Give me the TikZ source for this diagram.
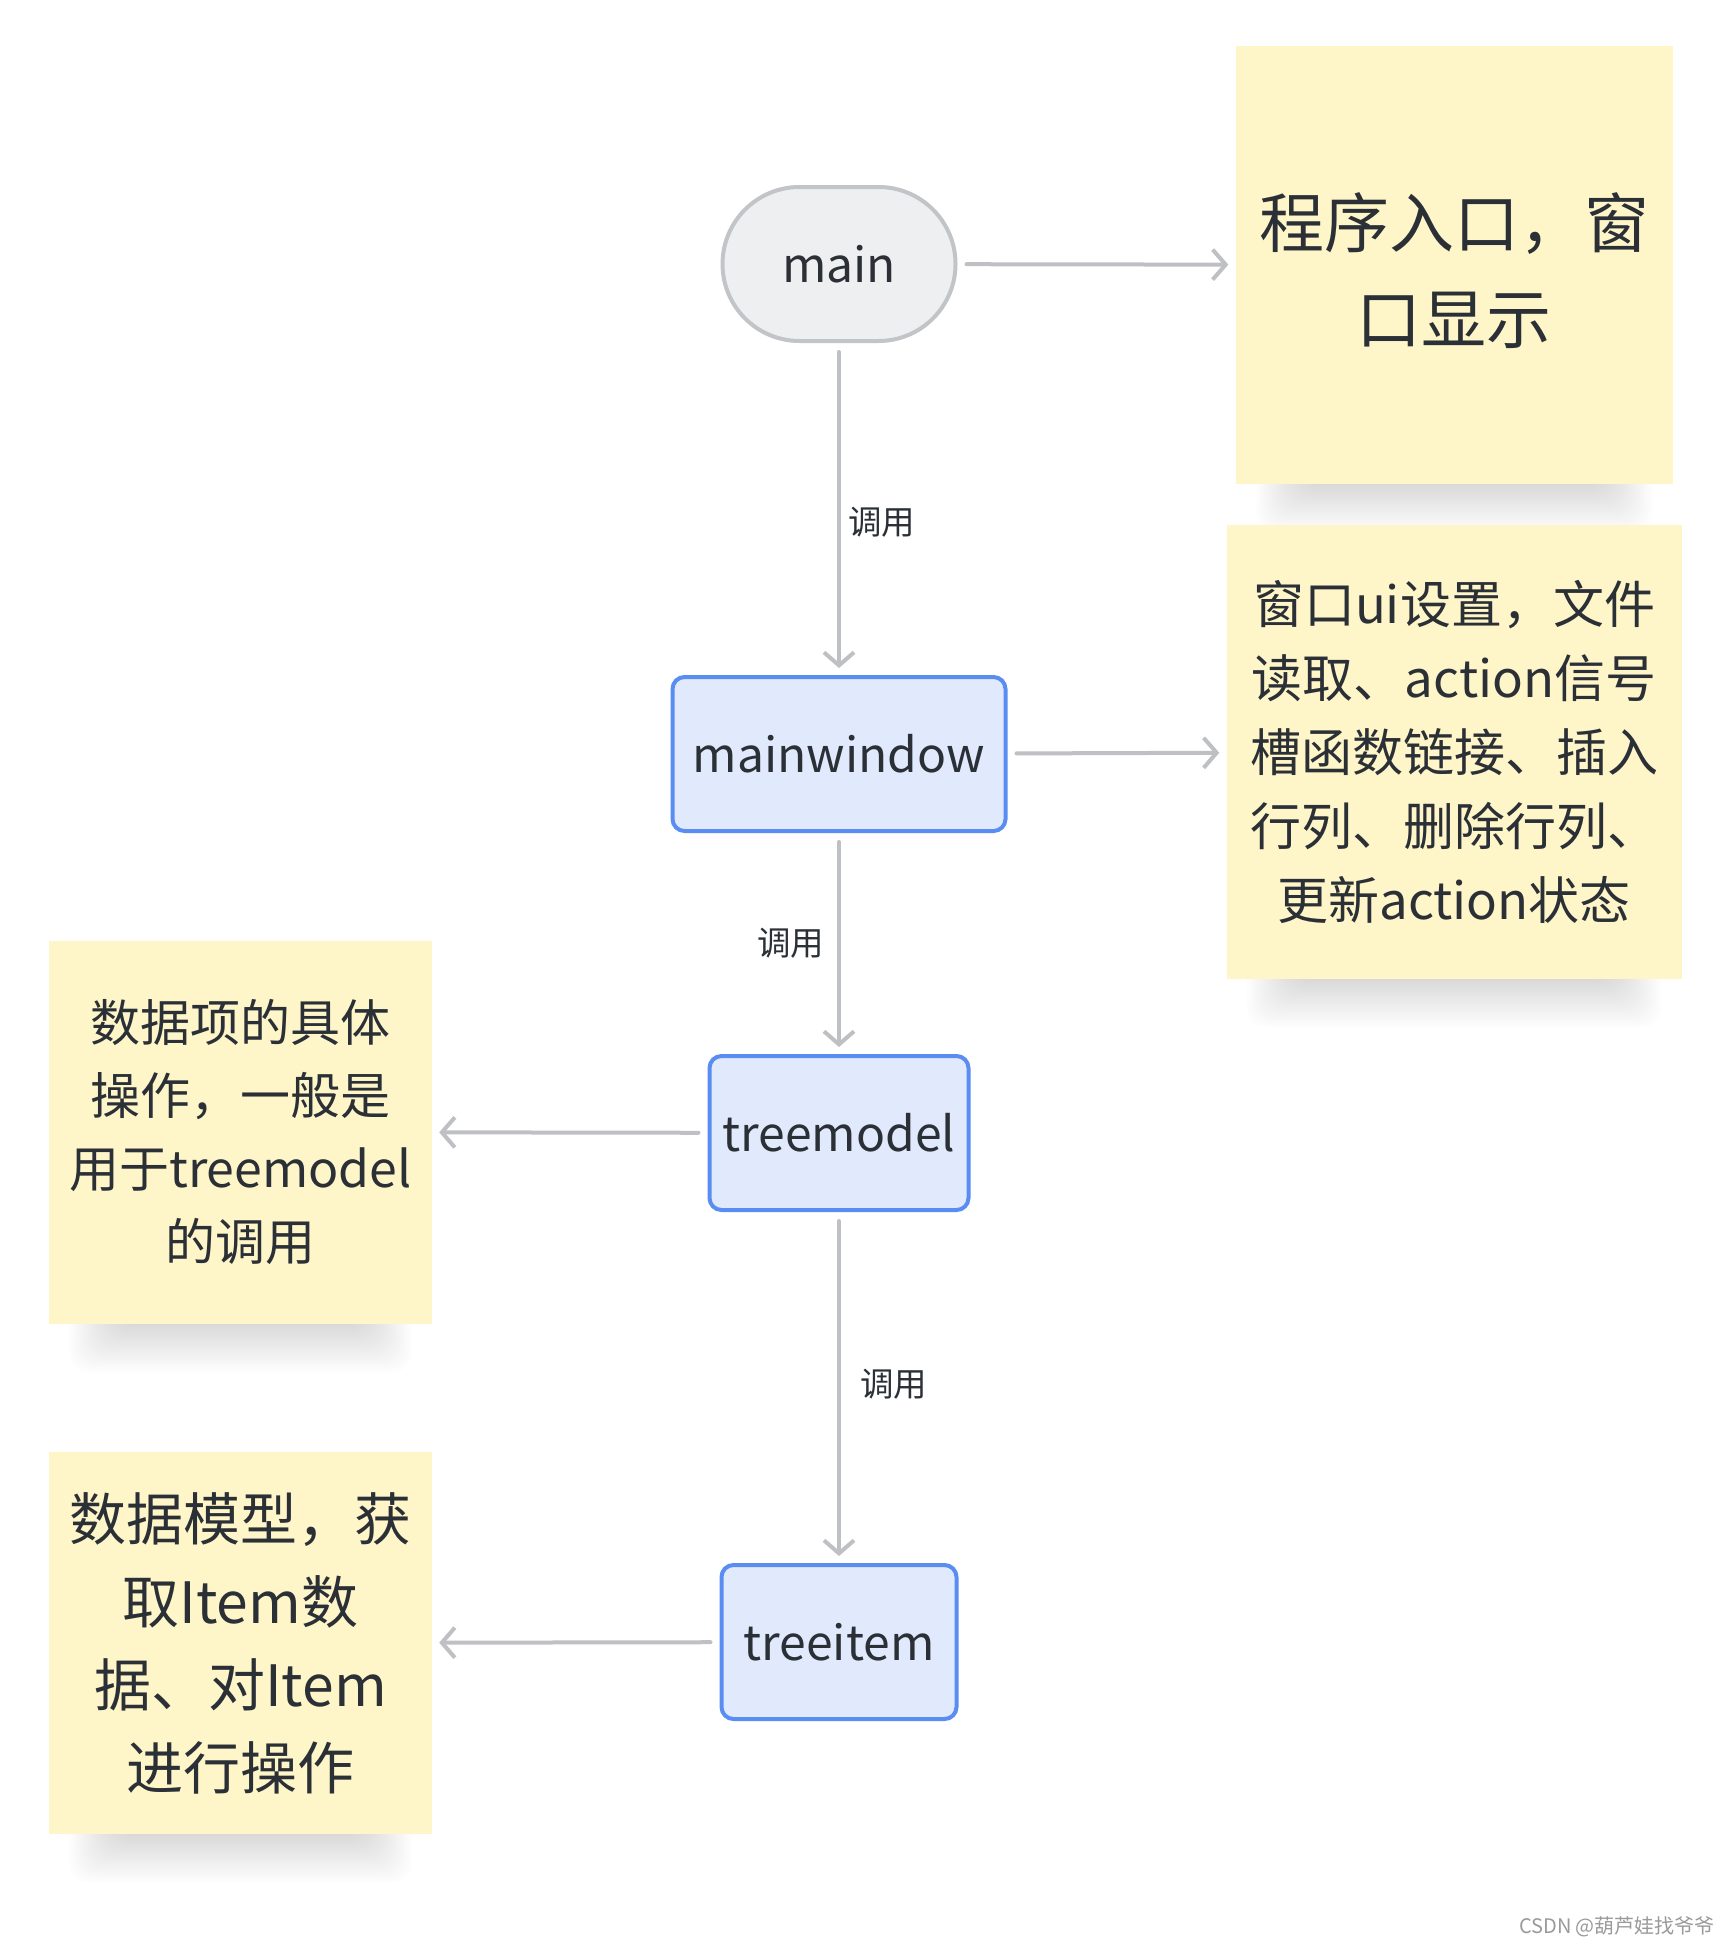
\documentclass[tikz,border=0pt]{standalone}
\usepackage{fontspec}
\newfontfamily\cjk{Noto Sans CJK SC}
\usetikzlibrary{arrows.meta,calc}
\definecolor{ink}{HTML}{2B3036}
\definecolor{edgegray}{HTML}{BEC0C4}
\definecolor{termfill}{HTML}{EEEFF1}
\definecolor{termdraw}{HTML}{C2C4C8}
\definecolor{boxfill}{HTML}{E1E9FD}
\definecolor{boxdraw}{HTML}{5A8DF2}
\definecolor{notefill}{HTML}{FEF5C9}
\definecolor{markgray}{HTML}{9A9A9A}
\pgfdeclarelayer{paper}
\pgfdeclarelayer{bg}
\pgfsetlayers{paper,bg,main}
\newcommand\noteshadow[1]{%
  \begin{pgfonlayer}{bg}
    \foreach \k in {0,...,21}{
      \fill[black, opacity=0.0085, rounded corners=20pt]
        ($(#1.south west)+(75-\k*2.6,-80)$) rectangle ($(#1.south east)+(-75+\k*2.6,-6+\k*2.6)$);
    }
  \end{pgfonlayer}}
\begin{document}
\begin{tikzpicture}[x=1pt,y=-1pt,
  terminal/.style={draw=termdraw, fill=termfill, line width=4pt, rounded corners=77pt,
    minimum width=233pt, minimum height=154pt, inner sep=0pt, text=ink,
    font={\cjk\fontsize{48}{58}\selectfont}},
  process/.style={draw=boxdraw, fill=boxfill, line width=4pt, rounded corners=12pt,
    minimum height=154pt, inner sep=0pt, text=ink,
    font={\cjk\fontsize{48}{58}\selectfont}},
  note/.style={fill=notefill, inner sep=0pt, text=ink, align=center},
  conn/.style={draw=edgegray, line width=4pt, line cap=round,
    -{Straight Barb[length=13pt,width=30pt]}, shorten <=9pt, shorten >=7pt},
  lbl/.style={text=ink, inner sep=0pt, font={\cjk\fontsize{33.5}{40}\selectfont}}
]
\begin{pgfonlayer}{paper}
\fill[white] (0,0) rectangle (1728,1938);
\end{pgfonlayer}
\useasboundingbox (0,0) rectangle (1728,1938);

% flow nodes
\node[terminal] (main) at (839,264) {main};
\node[process, minimum width=333pt] (mw) at (839,754) {mainwindow};
\node[process, minimum width=259pt] (tm) at (839,1133) {treemodel};
\node[process, minimum width=235pt] (ti) at (839,1642) {treeitem};

% notes
\node[note, minimum width=437pt, minimum height=438pt,
  font={\cjk\fontsize{65}{96}\selectfont}] (n1) at (1454,265)
  {\rule{0pt}{66pt}程序入口，窗\\口显示};
\node[note, minimum width=455pt, minimum height=454pt,
  font={\cjk\fontsize{51}{74}\selectfont}] (n2) at (1454,752)
  {窗口ui设置，文件\\读取、action信号\\槽函数链接、插入\\行列、删除行列、\\更新action状态};
\node[note, minimum width=383pt, minimum height=383pt,
  font={\cjk\fontsize{50}{73}\selectfont}] (n3) at (240.5,1132)
  {数据项的具体\\操作，一般是\\用于treemodel\\的调用};
\node[note, minimum width=383pt, minimum height=382pt,
  font={\cjk\fontsize{57}{83}\selectfont}] (n4) at (240.5,1643)
  {数据模型，获\\取Item数\\据、对Item\\进行操作};

\noteshadow{n1}
\noteshadow{n2}
\noteshadow{n3}
\noteshadow{n4}

% connectors
\draw[conn] (main) -- (n1);
\draw[conn] (main) -- node[lbl, pos=0.54, anchor=west, xshift=7pt] (l1) {调用} (mw);
\draw[conn] (mw) -- (n2);
\draw[conn] (mw) -- node[lbl, pos=0.5, anchor=east, xshift=-13pt] (l2) {调用} (tm);
\draw[conn] (tm) -- (n3);
\draw[conn] (tm) -- node[lbl, pos=0.49, anchor=west, xshift=19pt] (l3) {调用} (ti);
\draw[conn] (ti) -- (n4);

% watermark
\node[text=markgray, inner sep=0pt, font={\cjk\fontsize{20}{24}\selectfont}] (wm) at (1617,1927) {CSDN @葫芦娃找爷爷};
\end{tikzpicture}
\end{document}
